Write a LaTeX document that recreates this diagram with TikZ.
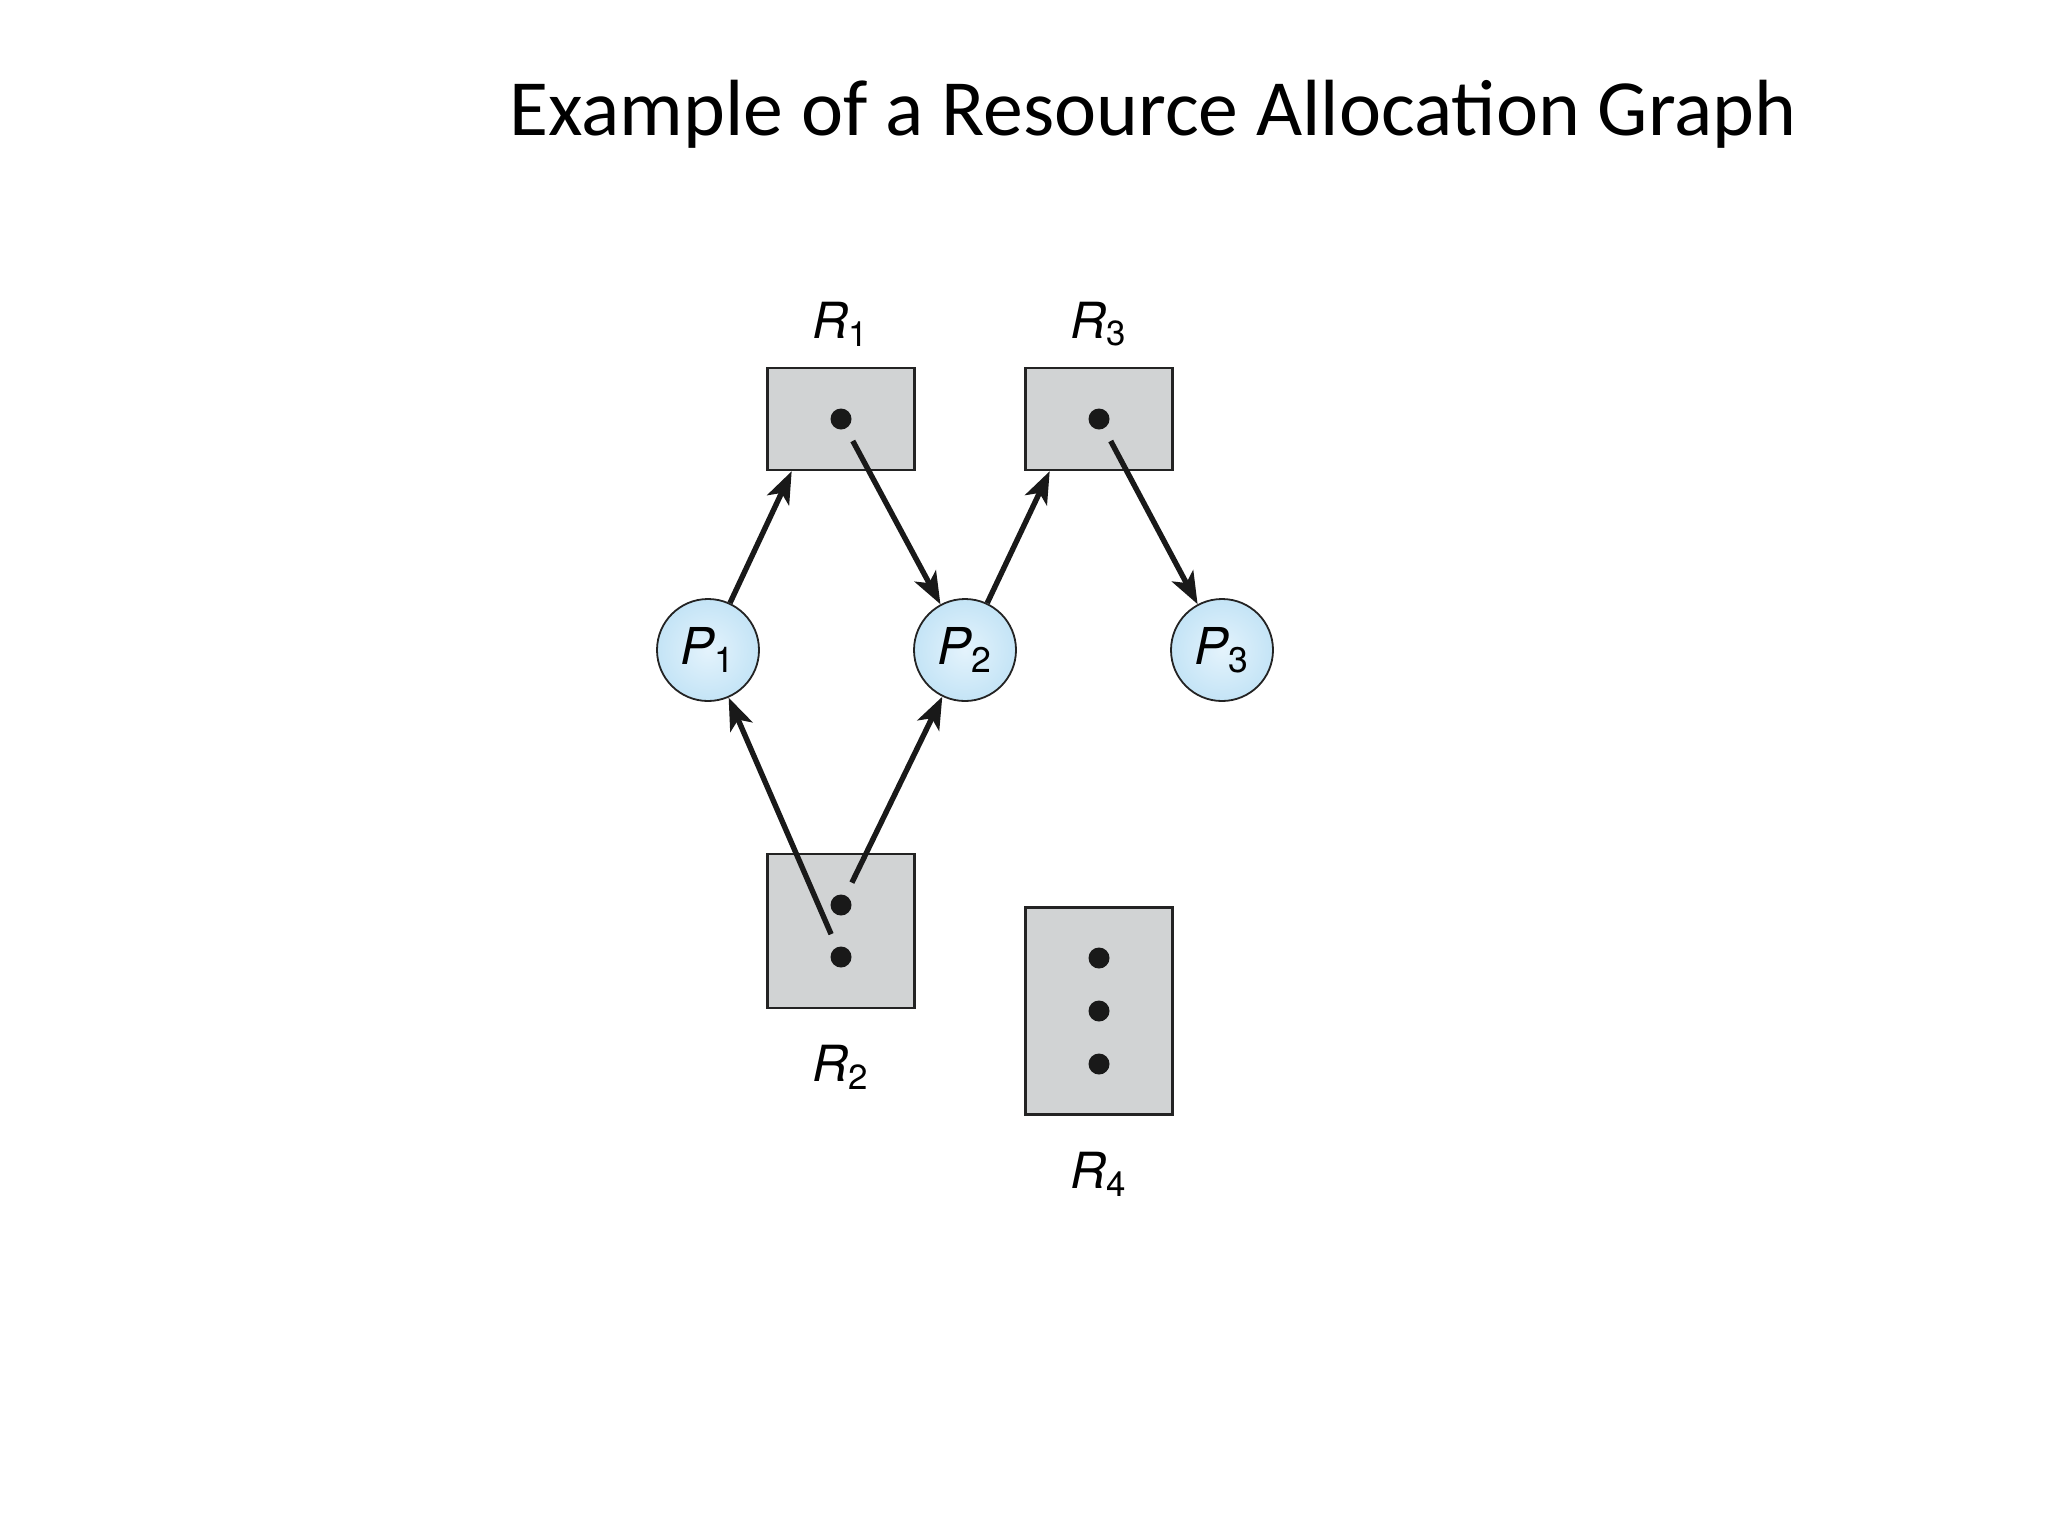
\documentclass[tikz,border=0pt]{standalone}
\usepackage{fontspec}
\setmainfont{Carlito}
\newfontfamily\lblfont{TeX Gyre Heros}
\usepackage{xcolor}
\usepackage{tikz}
\usetikzlibrary{arrows.meta, positioning, calc}
\definecolor{resgray}{RGB}{209,211,212}
\definecolor{procblue}{RGB}{196,228,246}
\definecolor{procin}{RGB}{228,243,252}
\definecolor{edgecol}{RGB}{35,35,35}
\newcommand{\lbl}[2]{{\itshape #1}\textsubscript{#2}}

\begin{document}
\begin{tikzpicture}[x=0.5bp, y=-0.5bp,
    node distance=10bp,
    res/.style={draw=edgecol, line width=1.2bp, fill=resgray, minimum width=73.5bp, inner sep=0pt},
    proc/.style={draw=edgecol, line width=0.9bp, circle, minimum size=51bp, inner sep=0pt,
                 inner color=procin, outer color=procblue, font=\lblfont\fontsize{25.5}{27}\selectfont},
    inst/.style={circle, fill=black!90, minimum size=10.5bp, inner sep=0pt},
    rlabel/.style={font=\lblfont\fontsize{25}{27}\selectfont, inner sep=0pt},
    arr/.style={-{Stealth[length=16bp, width=12bp, inset=4bp]}, line width=2.7bp, black!90}]
  \useasboundingbox (0,0) rectangle (2048,1536);
  \node[anchor=base, font=\fontsize{40}{48}\selectfont] (title) at (1153,135)
        {Example of a Resource Allocation Graph};
  % resources
  \node[res, minimum height=51bp] (r1) at (841,419) {};
  \node[res, minimum height=51bp] (r3) at (1099,419) {};
  \node[res, minimum height=77bp] (r2) at (841,931) {};
  \node[res, minimum height=103.5bp] (r4) at (1099,1011) {};
  \node[rlabel, above=of r1] (r1name) {\lbl{R}{1}};
  \node[rlabel, above=of r3] (r3name) {\lbl{R}{3}};
  \node[rlabel, below=18bp of r2] (r2name) {\lbl{R}{2}};
  \node[rlabel, below=18bp of r4] (r4name) {\lbl{R}{4}};
  % instances
  \node[inst] (r1a) at (r1) {};
  \node[inst] (r3a) at (r3) {};
  \node[inst] (r2a) at ($(r2)+(0,-26)$) {};
  \node[inst] (r2b) at ($(r2)+(0,26)$) {};
  \foreach \k/\d in {a/-53,b/0,c/53}
    \node[inst] (r4\k) at ($(r4)+(0,\d)$) {};
  % processes
  \node[proc] (p1) at (708,650) {\lbl{P}{1}};
  \node[proc] (p2) at (965,650) {\lbl{P}{2}};
  \node[proc] (p3) at (1222,650) {\lbl{P}{3}};
  % request edges
  \draw[arr] (p1) -- ($(r1.south west)!0.17!(r1.south east)$);
  \draw[arr] (p2) -- ($(r3.south west)!0.17!(r3.south east)$);
  % assignment edges
  \foreach \s/\t in {r1a/p2, r3a/p3, r2a/p2, r2b/p1}
    \draw[arr, shorten <=7bp] (\s) -- (\t);
\end{tikzpicture}
\end{document}
